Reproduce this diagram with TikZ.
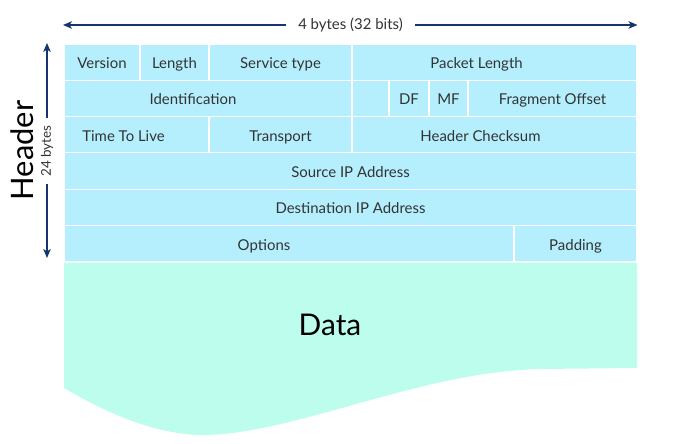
\documentclass[tikz,border=0pt]{standalone}
\usepackage{fontspec}
\setmainfont{Lato}
\usetikzlibrary{arrows.meta,positioning,calc}
\definecolor{hdr}{HTML}{B5EFFE}
\definecolor{dat}{HTML}{BDFDEE}
\definecolor{navy}{HTML}{16346E}
\definecolor{txt}{HTML}{333333}

\begin{document}
\begin{tikzpicture}[
  x=1bp, y=-1bp,
  font=\fontsize{15}{17}\selectfont,
  cell/.style={draw=white, line width=1.2pt, fill=hdr, text=txt, minimum height=36.3bp, inner sep=0pt, outer sep=0pt, text height=14bp, text depth=1.2bp},
  every label/.style={text=txt, inner sep=0pt, text height=14bp, text depth=1.2bp},
  arr/.style={-{Stealth[length=9bp,width=7.5bp,inset=2.5bp]}, navy, line width=1.1pt},
  big/.style={font=\fontsize{#1}{#1}\selectfont}
]
\useasboundingbox (0,0) rectangle (679,444);

% header rows
\node[cell, minimum width=76bp, anchor=north west] (version) at (64,44) {Version};
\node[cell, minimum width=69bp, right=0pt of version] (length) {Length};
\node[cell, minimum width=143bp, right=0pt of length] (service) {Service type};
\node[cell, minimum width=285bp, right=0pt of service, label={[xshift=-18bp]center:Packet Length}] (packet) {};

\node[cell, minimum width=288bp, below=0pt of version.south west, anchor=north west, label={[xshift=-15bp]center:Identification}] (ident) {};
\node[cell, minimum width=37bp, right=0pt of ident] (flag) {};
\node[cell, minimum width=40bp, right=0pt of flag] (df) {DF};
\node[cell, minimum width=39bp, right=0pt of df] (mf) {MF};
\node[cell, minimum width=169bp, right=0pt of mf] (offset) {Fragment Offset};

\node[cell, minimum width=145bp, below=0pt of ident.south west, anchor=north west, label={[xshift=-13bp]center:Time To Live}] (ttl) {};
\node[cell, minimum width=143bp, right=0pt of ttl] (transport) {Transport};
\node[cell, minimum width=285bp, right=0pt of transport, label={[xshift=-14bp]center:Header Checksum}] (checksum) {};

\node[cell, minimum width=573bp, below=0pt of ttl.south west, anchor=north west] (source) {Source IP Address};
\node[cell, minimum width=573bp, below=0pt of source.south west, anchor=north west] (dest) {Destination IP Address};

\node[cell, minimum width=450bp, below=0pt of dest.south west, anchor=north west, label={[xshift=-25bp]center:Options}] (options) {};
\node[cell, minimum width=123bp, right=0pt of options] (padding) {Padding};

% data block with wavy bottom
\fill[dat] ($(options.south west)+(0,0.8)$) -- ($(padding.south east)+(0,0.8)$) -- (637,368) -- (540,369)
  .. controls (420,372) and (300,432) .. (207,435)
  .. controls (160,436) and (110,415) .. (64,388) -- cycle;
\node[big=30] (data) at (330,325) {Data};

% sizes
\node[fill=white, text=txt, inner xsep=12bp] (width) at (350.5,25) {4 bytes (32 bits)};
\coordinate (wl) at (63,25);
\coordinate (wr) at (637.5,25);
\draw[arr] (width) -- (wl);
\draw[arr] (width) -- (wr);

\node[rotate=90, text=txt, big=13.5, inner xsep=7bp] (span) at (47,151) {24 bytes};
\coordinate (st) at (47,43);
\coordinate (sb) at (47,258);
\draw[arr] (span) -- (st);
\draw[arr] (span) -- (sb);

\node[rotate=90, big=31] (header) at (22,150.5) {Header};
\end{tikzpicture}
\end{document}
